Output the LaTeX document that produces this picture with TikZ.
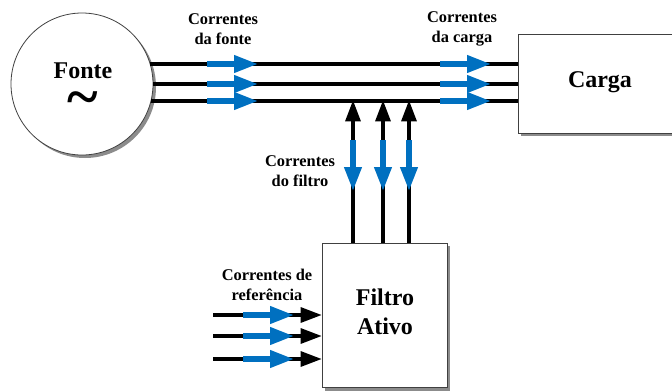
\documentclass[tikz,border=0pt]{standalone}
\usepackage{fontspec}
\setmainfont{Liberation Serif}
\usetikzlibrary{arrows.meta,calc}
\definecolor{fluxo}{RGB}{0,112,192}
\tikzset{
  wire/.style={line width=3pt},
  wirein/.style={line width=3pt, -{Triangle[length=16pt,width=11pt]}},
  blueflow/.style={draw=fluxo, line width=3.8pt, -{Triangle[length=18pt,width=12.5pt]}},
  blockbox/.style={draw=black!75, fill=white, line width=0.6pt},
  sombra/.style={fill=black!45},
  rotulo/.style={font=\fontsize{12.3}{15}\selectfont\bfseries, align=center},
  titulo/.style={font=\fontsize{18}{22}\selectfont\bfseries, align=center},
  tilsty/.style={font=\fontsize{44}{44}\selectfont\bfseries, inner sep=0pt},
}

\begin{document}
\begin{tikzpicture}[x=0.75pt,y=-0.75pt]
\clip (0,0) rectangle (672,390);

% sombras
\fill[sombra] (85,87) circle (71);
\fill[sombra] (521,37) rectangle (690,136);
\fill[sombra] (325,246) rectangle (450,391);

% blocos
\node[blockbox, circle, minimum size=106.5pt, inner sep=0pt] (fonte) at (82,84) {};
\node[titulo] (fontetxt) at (83,71) {Fonte};
\node[tilsty, anchor=base] (til) at (83,116) {\char"007E};
\node[blockbox, minimum width=129pt, minimum height=74.25pt, anchor=north west] (carga) at (518,34) {};
\node[titulo] (cargatxt) at (600,82) {Carga};
\node[blockbox, minimum width=93.75pt, minimum height=108pt, anchor=north west] (filtro) at (322,243) {};
\node[titulo] (filtrotxt) at (385,312) {Filtro\\Ativo};

% rotulos
\node[rotulo] (lfonte) at (223,29) {Correntes\\da fonte};
\node[rotulo] (lcarga) at (462,29) {Correntes\\da carga};
\node[rotulo] (lfiltro) at (300,171) {Correntes\\do filtro};
\node[rotulo] (lref) at (267,285) {Correntes de\\refer\^encia};

% linhas da rede
\coordinate (s1) at (150,64);
\coordinate (s2) at (153,84);
\coordinate (s3) at (151,101);
\coordinate (l1) at (carga.west |- s1);
\coordinate (l2) at (carga.west |- s2);
\coordinate (l3) at (carga.west |- s3);
\draw[wire] (s1) -- (l1);
\draw[wire] (s2) -- (l2);
\draw[wire] (s3) -- (l3);
\foreach \i in {1,2,3} {
  \draw[blueflow] (207,0 |- s\i) -- (258,0 |- s\i);
  \draw[blueflow] (440,0 |- s\i) -- (491,0 |- s\i);
}

% ramos do filtro
\foreach \x [count=\i] in {353,383,409} {
  \coordinate (f\i) at (\x,243);
  \coordinate (b\i) at (\x,100);
  \draw[wirein] (f\i) -- (b\i);
  \draw[blueflow] ($(b\i)+(0,40)$) -- ($(b\i)+(0,91)$);
}

% correntes de referencia
\foreach \y [count=\i] in {315,336,359} {
  \coordinate (r\i) at (213,\y);
  \coordinate (e\i) at (filtro.west |- r\i);
  \draw[wirein] (r\i) -- (e\i);
  \draw[blueflow] ($(r\i)+(30,0)$) -- ($(r\i)+(81,0)$);
}
\end{tikzpicture}
\end{document}
